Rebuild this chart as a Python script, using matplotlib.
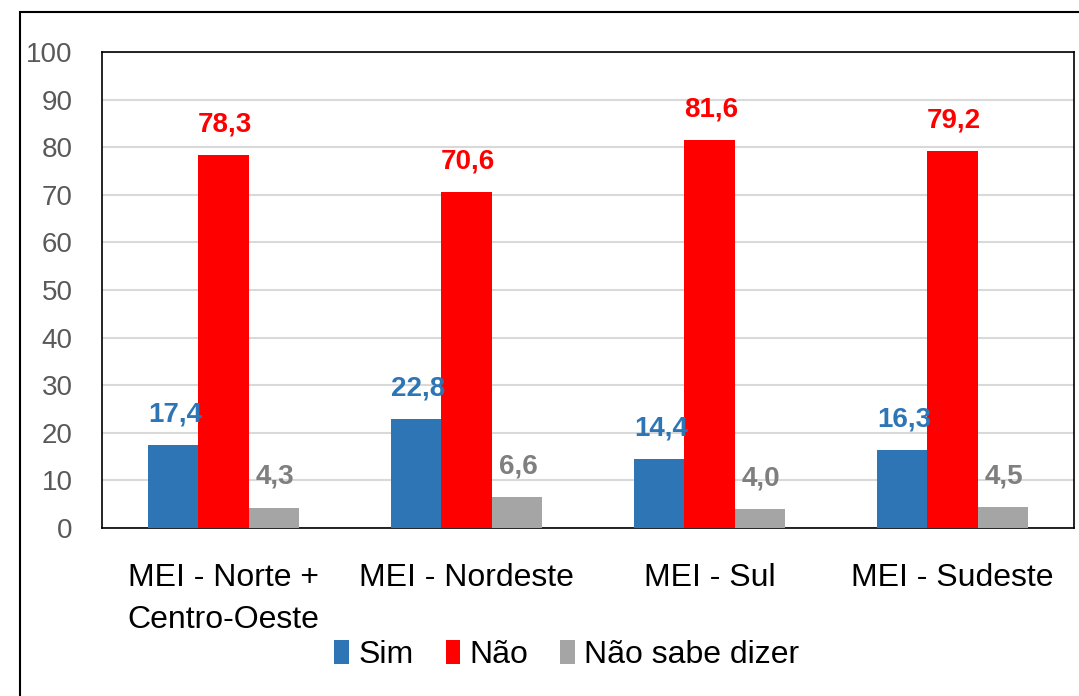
import matplotlib.pyplot as plt
import matplotlib.patches as mpatches
import numpy as np

# dados
categorias = ['MEI - Norte +\nCentro-Oeste', 'MEI - Nordeste', 'MEI - Sul', 'MEI - Sudeste']
sim = [17.4, 22.8, 14.4, 16.3]
nao = [78.3, 70.6, 81.6, 79.2]
nao_sabe = [4.3, 6.6, 4.0, 4.5]
series = ['Sim', 'Não', 'Não sabe dizer']
cores = ['#2E75B6', '#FF0000', '#A5A5A5']
cores_rotulo = ['#2E75B6', '#FF0000', '#7F7F7F']

plt.rcParams['font.family'] = ['Liberation Sans Narrow', 'Liberation Sans', 'DejaVu Sans']

W, H = 1079, 696
fig = plt.figure(figsize=(W / 100, H / 100), dpi=100)
ax = fig.add_axes([102 / W, 1 - 528 / H, (1074 - 102) / W, (528 - 52) / H])

x = np.arange(len(categorias))
larg = 0.206
for i, (vals, nome) in enumerate(zip([sim, nao, nao_sabe], series)):
    pos = x + (i - 1) * larg
    barras = ax.bar(pos, vals, larg, color=cores[i], label=nome, zorder=3)
    for b, v in zip(barras, vals):
        ax.annotate(f'{v:.1f}'.replace('.', ','), (b.get_x() + b.get_width() / 2, v),
                    xytext=(1, 22), textcoords='offset points', ha='center', va='center',
                    fontsize=20, fontweight='bold', color=cores_rotulo[i], zorder=4)

ax.set_xlim(-0.5, 3.5)
ax.set_ylim(0, 100)
ax.set_yticks(range(0, 101, 10))
ax.grid(axis='y', color='#D9D9D9', linewidth=1.5, zorder=0)
ax.set_xticks(x)
ax.set_xticklabels(categorias, fontsize=23, linespacing=1.55, va='top')
ax.tick_params(axis='x', length=0, pad=25, colors='black')
ax.tick_params(axis='y', length=0, pad=21, labelsize=20, labelcolor='#595959')
for s in ax.spines.values():
    s.set_color('black')
    s.set_linewidth(1.2)

leg = fig.legend(loc='center', bbox_to_anchor=(567 / W, 1 - 655 / H), ncol=3, frameon=False,
                 fontsize=23, handlelength=0.45, handleheight=0.75, handletextpad=0.3,
                 columnspacing=1.0)

# moldura externa
fig.patches.append(mpatches.Rectangle((20 / W, -0.05), 1.1, 1 - 12 / H + 0.05,
                                      transform=fig.transFigure, fill=False,
                                      edgecolor='black', linewidth=1.5))

fig.savefig('out.png', dpi=100)
